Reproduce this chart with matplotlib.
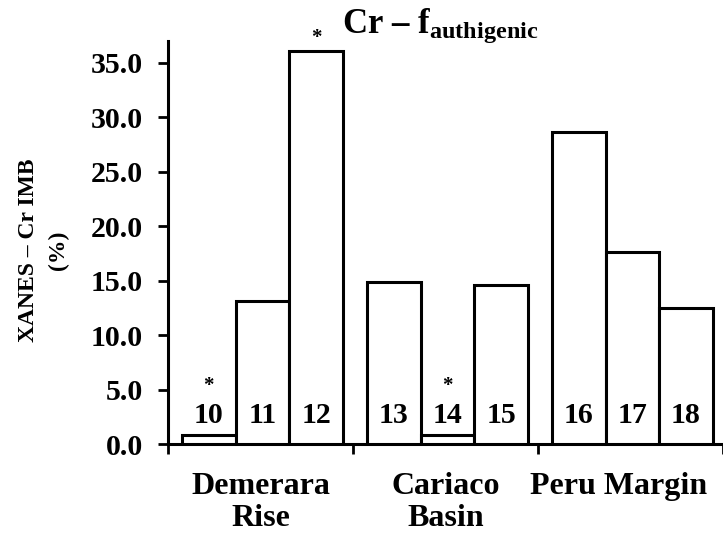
import numpy as np
import matplotlib
matplotlib.use("Agg")
import matplotlib.pyplot as plt
import matplotlib.transforms as mtrans

# ---- data ----
sites = ["Demerara\nRise", "Cariaco\nBasin", "Peru Margin"]
sample_ids = ["10", "11", "12", "13", "14", "15", "16", "17", "18"]
values = [0.8, 13.1, 36.1, 14.9, 0.8, 14.6, 28.7, 17.6, 12.5]
starred = ["10", "12", "14"]
yticks = [0.0, 5.0, 10.0, 15.0, 20.0, 25.0, 30.0, 35.0]

plt.rcParams["font.family"] = ["Liberation Serif", "DejaVu Serif"]
plt.rcParams["font.weight"] = "bold"
plt.rcParams["mathtext.fontset"] = "custom"
plt.rcParams["mathtext.rm"] = "Liberation Serif:bold"
plt.rcParams["mathtext.bf"] = "Liberation Serif:bold"
plt.rcParams["mathtext.it"] = "Liberation Serif:bold"

fig = plt.figure(figsize=(7.23, 5.36), dpi=100)
ax = fig.add_axes([0.2324, 0.1716, 0.7676, 0.7515])

n_per = 3
bw = 0.29
xs = []
for i in range(len(sites)):
    for j in range(n_per):
        xs.append(i + 0.51 + (j - 1) * bw)

ax.bar(xs, values, width=bw, facecolor="white", edgecolor="black",
       linewidth=2.2, zorder=3)

for x, v, sid in zip(xs, values, sample_ids):
    ax.text(x, 1.9, sid, ha="center", va="baseline", fontsize=21.5,
            fontweight="bold", zorder=4)
    if sid in starred:
        ax.annotate("*", xy=(x, max(v, 4.2)), xytext=(0, 2),
                    textcoords="offset points", ha="center", va="bottom",
                    fontsize=15, fontweight="bold", zorder=4)

ax.set_xlim(0, 3)
ax.set_ylim(0, 37)
for s in ["top", "right"]:
    ax.spines[s].set_visible(False)
for s in ["left", "bottom"]:
    ax.spines[s].set_linewidth(2.2)

ax.set_yticks(yticks)
ax.set_yticklabels([f"{v:.1f}" for v in yticks])
ax.tick_params(axis="y", direction="out", length=7, width=2, pad=11,
               labelsize=21.5)

ax.set_xticks([0.5, 1.5, 2.5])
ax.set_xticklabels(sites, fontsize=23, linespacing=1.15)
ax.set_xticks([0, 1, 2, 3], minor=True)
ax.tick_params(axis="x", which="major", length=0, pad=20)
ax.tick_params(axis="x", which="minor", direction="out", length=7, width=2)
for lab in ax.get_xticklabels():
    lab.set_fontweight("bold")
last = ax.get_xticklabels()[-1]
last.set_transform(last.get_transform() +
                   mtrans.ScaledTranslation(-0.12, 0, fig.dpi_scale_trans))

ax.set_ylabel("XANES – Cr IMB\n(%)", fontsize=17, fontweight="bold",
              linespacing=1.55)
ax.yaxis.set_label_coords(-0.178, 0.48)

fig.text(0.609, 0.938, r"Cr – f$_{\mathbf{authigenic}}$", ha="center",
         va="baseline", fontsize=25, fontweight="bold")

fig.savefig("out.png", dpi=100)
